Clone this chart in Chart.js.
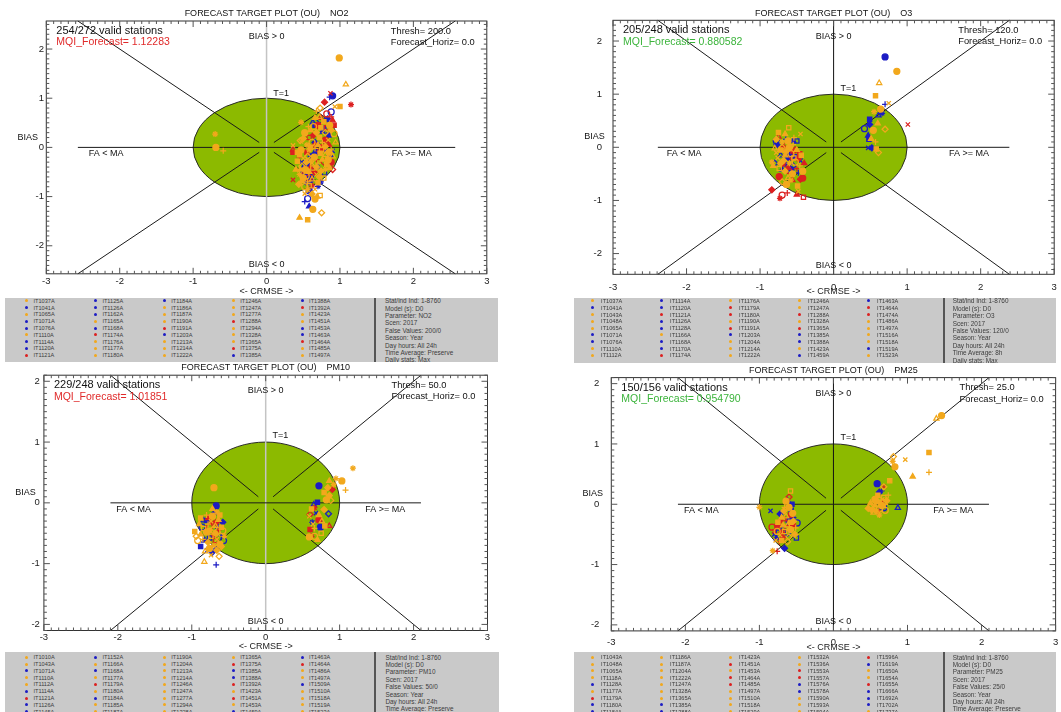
<!DOCTYPE html>
<html><head><meta charset="utf-8">
<script src="https://cdn.jsdelivr.net/npm/chart.js@4.4.1/dist/chart.umd.min.js"></script>
<style>
html,body{margin:0;padding:0;background:#fff;width:1061px;height:712px;overflow:hidden;position:relative;font-family:"Liberation Sans",Arial,sans-serif;}
canvas{position:absolute;}
.lg{position:absolute;background:#c9c9c9;z-index:5;overflow:hidden;}
.sep{position:absolute;top:0;bottom:0;width:2px;background:#555;}
.st{position:absolute;font-size:5.6px;line-height:6px;color:#3c3c3c;white-space:nowrap;}
.mk{position:absolute;width:3px;height:3px;border-radius:50%;}
.inf{position:absolute;font-size:6.4px;line-height:7px;color:#3c3c3c;white-space:nowrap;}
</style></head><body>
<canvas id="c1" width="530" height="298" style="left:0px;top:0px"></canvas>
<canvas id="c2" width="560" height="298" style="left:530px;top:0px"></canvas>
<canvas id="c3" width="530" height="294" style="left:0px;top:360px"></canvas>
<canvas id="c4" width="560" height="294" style="left:530px;top:360px"></canvas>
<script>
// ---------------- DATA ----------------
const pollutants = ['NO2', 'O3', 'PM10', 'PM25'];
const validStations = ['254/272', '205/248', '229/248', '150/156'];
const mqiValues = ['1.12283', '0.880582', '1.01851', '0.954790'];
const thresholds = ['200.0', '120.0', '50.0', '25.0'];
const horizons = ['0.0', '0.0', '0.0', '0.0'];
const xTicksRange = [-3, 3];
const yRanges = [2.57, 2.39, 2.1, 2.1];

// NO2 (CRMSE, BIAS)
const no2Orange = [[0.99,1.82],[1.08,1.28],[1.0,0.83],[0.93,0.83],[0.73,0.80],[-0.70,0.27],[-0.69,0.0],[-0.59,-0.07],
 [0.45,-1.43],[0.56,-1.47],[0.75,-1.33],[0.63,-1.26],[0.69,-1.0],[0.73,-0.98],[0.52,-0.94],[0.62,-0.95],[0.56,-0.86],[0.66,-1.05],
 [0.68,0.74],[0.72,0.62],[0.78,0.52],[0.88,0.35],[0.92,0.28],[0.60,0.35],[0.72,0.20],[0.47,0.12],[0.50,0.18],[0.55,0.05],
 [0.62,0.10],[0.66,-0.02],[0.70,0.05],[0.75,-0.05],[0.80,0.02],[0.85,-0.10],[0.90,-0.18],[0.45,-0.15],[0.50,-0.22],[0.56,-0.18],
 [0.60,-0.28],[0.65,-0.20],[0.70,-0.32],[0.76,-0.25],[0.82,-0.35],[0.48,-0.38],[0.53,-0.45],[0.58,-0.50],[0.63,-0.42],[0.68,-0.55],
 [0.74,-0.48],[0.45,-0.55],[0.50,-0.62],[0.56,-0.70],[0.62,-0.65],[0.70,-0.72],[0.44,-0.75],[0.52,-0.80],[0.40,-0.45],[0.42,-0.28],
 [0.84,0.15],[0.68,0.30],[0.58,-0.05],[0.64,0.42],[0.76,0.10],[0.86,-0.42],[0.78,-0.62],[0.54,-0.30],[0.47,-0.05],[0.80,-0.15],
 [0.73,-0.12],[0.36,0.04],[0.46,0.14],[0.47,0.51],
 [0.52,0.30],[0.57,0.42],[0.66,0.60],[0.74,0.40],[0.80,0.30],[0.86,0.45],[0.48,-0.68],[0.58,-0.78],[0.66,-0.85],[0.72,-0.60],
 [0.80,-0.45],[0.84,-0.25],[0.88,-0.05],[0.94,0.10],[0.60,0.00],[0.68,-0.40],[0.54,-0.58],[0.46,-0.45],[0.42,-0.10],[0.62,-0.32]];
const no2Blue = [[0.90,1.05],[0.86,1.02],[0.63,0.51],[0.66,0.45],[0.83,0.58],[0.88,0.72],[0.76,0.32],[0.85,0.25],[0.90,-0.07],
 [0.86,-0.18],[0.70,-0.79],[0.56,-1.04],[0.52,-1.10],[0.58,-1.20],[0.52,-0.40],[0.55,-0.48],[0.58,-0.52],[0.60,-0.58],[0.50,-0.55],
 [0.62,-0.62],[0.64,-0.15],[0.60,-0.18],[0.68,-0.10],[0.72,0.05],[0.80,-0.05],[0.78,0.40],[0.73,0.55],[0.55,-0.70],[0.70,-0.40],
 [0.79,-0.52],[0.48,-0.30],[0.66,0.10],[0.74,-0.70],[0.58,-0.88],[0.53,-0.35],[0.57,-0.42],
 [0.54,-0.62],[0.60,-0.68],[0.50,-0.45],[0.64,-0.48],[0.56,-0.30]];
const no2Red = [[0.87,1.10],[0.79,0.92],[1.15,0.87],[0.82,0.68],[0.88,0.62],[0.90,0.55],[0.82,0.40],[0.64,0.25],[0.80,0.15],
 [0.36,-0.05],[0.36,-0.10],[0.36,-0.66],[0.90,-0.45],[0.72,-0.08],[0.76,0.00],[0.68,-0.25],[0.60,-0.40],[0.55,-0.10],[0.78,-0.30],
 [0.70,0.45],[0.85,0.05],[0.58,0.20],[0.50,-0.50],[0.65,-0.50],[0.62,-0.78],[0.88,-0.30],[0.45,-0.20],
 [0.74,0.60],[0.92,0.45],[0.66,0.05],[0.58,-0.62]];

// O3
const o3Orange = [[0.86,1.43],[0.62,1.21],[0.57,0.97],[0.75,0.83],[0.70,0.34],[0.55,0.67],[0.54,0.32],[0.57,0.10],[0.51,0.16],
 [0.58,-0.03],[0.61,-0.10],[0.64,0.72],[0.60,0.45],
 [-0.61,0.37],[-0.45,0.25],[-0.78,0.15],[-0.70,0.10],[-0.62,0.12],[-0.55,0.05],[-0.80,-0.02],[-0.72,-0.05],[-0.65,-0.08],
 [-0.58,-0.12],[-0.50,-0.05],[-0.44,-0.15],[-0.76,-0.20],[-0.68,-0.25],[-0.60,-0.30],[-0.52,-0.28],[-0.46,-0.35],[-0.82,-0.35],
 [-0.74,-0.40],[-0.66,-0.45],[-0.56,-0.50],[-0.62,-0.58],[-0.49,-0.73],[-0.48,-0.83],[-0.70,-0.65],[-0.84,-0.28],[-0.42,-0.45],
 [-0.54,0.18],[-0.66,0.25],[-0.75,0.28],
 [-0.70,0.00],[-0.60,0.00],[-0.66,-0.15],[-0.54,-0.20],[-0.78,-0.10],[-0.72,-0.30],[-0.58,-0.62],[-0.64,-0.70]];
const o3Blue = [[0.70,1.70],[0.70,0.81],[0.61,0.60],[0.49,0.53],[0.49,0.43],[0.42,0.35],[0.47,0.22],[0.48,0.15],[0.47,-0.01],
 [0.52,-0.01],[0.66,0.64],
 [-0.78,0.12],[-0.65,0.15],[-0.55,0.12],[-0.50,0.12],[-0.77,0.05],[-0.60,-0.10],[-0.72,-0.15],[-0.52,-0.18],[-0.45,-0.25],
 [-0.80,-0.30],[-0.66,-0.32],[-0.58,-0.42],[-0.48,-0.48],[-0.70,-0.42],[-0.62,-0.20],[-0.55,-0.35]];
const o3Red = [[1.01,0.43],[-0.84,-0.80],[-0.73,-0.96],[-0.70,-0.90],[-0.63,-0.86],[-0.50,-0.89],[-0.41,-0.94],[-0.45,-0.60],
 [-0.42,-0.58],[-0.75,0.20],[-0.68,-0.02],[-0.58,-0.22],[-0.52,-0.05],[-0.62,-0.38],[-0.70,-0.30],[-0.50,-0.40],[-0.56,-0.62],
 [-0.46,-0.12],[-0.64,0.05],[-0.74,-0.55],[-0.40,-0.30],
 [-0.60,-0.45],[-0.66,-0.12],[-0.48,-0.22],[-0.56,-0.08]];

// PM10
const pm10Orange = [[-0.70,0.25],[-0.83,-0.97],[-0.96,-0.47],[-0.74,-0.86],[-0.63,-0.88],[-0.66,-0.15],[-0.72,-0.22],[-0.78,-0.35],
 [-0.64,-0.28],[-0.60,-0.40],[-0.70,-0.42],[-0.80,-0.48],[-0.88,-0.52],[-0.74,-0.55],[-0.66,-0.60],[-0.78,-0.65],[-0.70,-0.70],
 [-0.62,-0.68],[-0.85,-0.60],[-0.82,-0.80],[-0.76,-0.45],[-0.68,-0.50],[-0.58,-0.46],[-0.90,-0.35],[-0.62,-0.20],[-0.74,-0.30],
 [-0.66,-0.78],[-0.56,-0.55],[-0.92,-0.62],[-0.80,-0.20],
 [-0.72,-0.10],[-0.84,-0.42],[-0.60,-0.72],[-0.76,-0.75],[-0.68,-0.38],[-0.88,-0.25],[-0.64,-0.52],[-0.94,-0.55],
 [1.18,0.57],[1.03,0.36],[1.08,0.21],[0.86,0.36],[0.79,0.17],[0.88,0.04],[0.59,-0.56],[0.70,-0.61],[0.75,-0.50],[0.59,-0.22],
 [0.79,-0.11],[0.92,0.30],[0.82,0.05],[0.66,-0.42],[0.76,-0.30],[0.62,-0.10],[0.84,0.25],
 [0.66,-0.55],[0.72,-0.20],[0.80,-0.38],[0.64,-0.35],[0.86,0.12],[0.95,0.40]];
const pm10Blue = [[-0.67,-0.05],[-0.67,-1.02],[-0.84,-0.29],[-0.80,-0.29],[-0.58,-0.32],[-0.86,-0.40],[-0.83,-0.62],[-0.88,-0.72],
 [-0.79,-0.78],[-0.72,-0.81],[-0.67,-0.75],[-0.57,-0.62],[-0.60,-0.54],[-0.64,-0.40],[-0.76,-0.58],[-0.70,-0.18],
 [0.72,0.28],[0.65,-0.03],[0.70,0.01],[0.68,-0.17],[0.85,-0.18],[0.63,-0.32],[0.74,-0.40]];
const pm10Red = [[-0.73,-0.33],[-0.67,-0.32],[-0.70,-0.53],[-0.76,-0.40],[-0.64,-0.45],[-0.78,-0.25],[-0.68,-0.62],
 [0.90,0.22],[0.72,-0.28],[0.86,-0.38],[0.60,-0.44],[0.63,-0.53],[0.60,-0.19],[0.66,-0.08]];

// PM25
const pm25Orange = [[1.46,1.47],[1.39,1.42],[1.29,0.86],[0.97,0.74],[0.81,0.79],[0.80,0.71],[0.83,0.62],[1.29,0.53],[1.07,0.46],
 [0.76,0.39],[0.68,0.29],[0.56,0.08],[0.63,0.03],[0.68,0.11],[0.54,-0.05],[0.47,-0.07],[0.58,-0.11],[0.65,-0.02],[0.70,0.00],
 [0.54,-0.14],[0.60,0.15],[0.72,0.06],[0.62,-0.08],[0.50,0.02],
 [0.58,0.05],[0.66,0.08],[0.52,-0.10],[0.62,-0.18],[0.70,-0.10],[0.74,0.15],[0.56,-0.02],
 [-0.58,0.22],[-0.67,-0.11],[-0.60,-0.05],[-0.64,-0.20],[-0.58,-0.30],[-0.72,-0.51],[-0.60,-0.54],[-0.82,-0.77],[-0.58,-0.42],
 [-0.51,-0.39],[-0.68,-0.35],[-0.75,-0.30],[-0.62,-0.62],[-0.55,-0.15],[-0.70,-0.22],[-0.66,-0.45],[-0.78,-0.60],[-0.52,-0.50],
 [-1.00,-0.05],[-0.64,0.05],
 [-0.66,-0.05],[-0.62,-0.35],[-0.70,-0.60],[-0.54,-0.28],[-0.76,-0.45]];
const pm25Blue = [[0.59,0.34],[0.65,0.22],[0.87,-0.06],[0.65,-0.04],[0.62,0.20],[0.68,-0.06],
 [-0.62,0.06],[-0.56,0.0],[-0.85,-0.11],[-0.72,-0.16],[-0.54,-0.22],[-0.49,-0.31],[-0.77,-0.43],[-0.77,-0.56],[-0.50,-0.56],
 [-0.66,-0.73],[-0.60,-0.28],[-0.68,-0.40],[-0.57,-0.10],[-0.80,-0.50],[-0.62,-0.48]];
const pm25Red = [[0.68,0.29],[0.65,0.01],[0.60,-0.12],[-0.83,-0.38],[-0.76,-0.78],[-0.72,-0.28],[-0.63,-0.39],[-0.70,-0.47],
 [-0.75,-0.35],[-0.66,-0.25],[-0.58,-0.18],[-0.80,-0.45],[-0.60,0.12],[-0.68,-0.55],[-0.55,-0.35],[-0.73,-0.62]];

// legend station lists
const no2Stations = ['IT1037A','IT1041A','IT1065A','IT1071A','IT1076A','IT1110A','IT1114A','IT1120A','IT1121A',
 'IT1125A','IT1126A','IT1162A','IT1165A','IT1168A','IT1174A','IT1176A','IT1177A','IT1180A',
 'IT1184A','IT1186A','IT1187A','IT1190A','IT1191A','IT1203A','IT1213A','IT1214A','IT1222A',
 'IT1246A','IT1247A','IT1277A','IT1288A','IT1294A','IT1328A','IT1365A','IT1375A','IT1385A',
 'IT1388A','IT1392A','IT1423A','IT1451A','IT1453A','IT1463A','IT1464A','IT1485A','IT1497A'];
const o3Stations = ['IT1037A','IT1041A','IT1043A','IT1048A','IT1065A','IT1071A','IT1076A','IT1110A','IT1112A',
 'IT1114A','IT1120A','IT1121A','IT1126A','IT1128A','IT1166A','IT1168A','IT1170A','IT1174A',
 'IT1176A','IT1179A','IT1180A','IT1190A','IT1191A','IT1203A','IT1204A','IT1214A','IT1222A',
 'IT1246A','IT1247A','IT1288A','IT1328A','IT1365A','IT1385A','IT1388A','IT1423A','IT1459A',
 'IT1463A','IT1464A','IT1474A','IT1486A','IT1497A','IT1516A','IT1518A','IT1519A','IT1523A'];
const pm10Stations = ['IT1010A','IT1043A','IT1071A','IT1110A','IT1112A','IT1114A','IT1121A','IT1126A','IT1145A',
 'IT1152A','IT1166A','IT1168A','IT1177A','IT1179A','IT1180A','IT1184A','IT1185A','IT1187A',
 'IT1190A','IT1204A','IT1213A','IT1214A','IT1246A','IT1247A','IT1277A','IT1294A','IT1328A',
 'IT1365A','IT1375A','IT1385A','IT1388A','IT1392A','IT1423A','IT1451A','IT1453A','IT1459A',
 'IT1463A','IT1464A','IT1486A','IT1497A','IT1509A','IT1510A','IT1518A','IT1519A','IT1523A'];
const pm25Stations = ['IT1043A','IT1048A','IT1065A','IT1118A','IT1128A','IT1177A','IT1179A','IT1180A','IT1184A',
 'IT1186A','IT1187A','IT1204A','IT1222A','IT1247A','IT1328A','IT1365A','IT1385A','IT1388A',
 'IT1423A','IT1451A','IT1453A','IT1464A','IT1485A','IT1497A','IT1510A','IT1518A','IT1529A',
 'IT1532A','IT1536A','IT1553A','IT1557A','IT1576A','IT1578A','IT1590A','IT1593A','IT1594A',
 'IT1596A','IT1619A','IT1650A','IT1654A','IT1655A','IT1666A','IT1692A','IT1702A','IT1737A'];
const no2MarkerColors = 'OBOBBOBBR' + 'BBBOBROOO' + 'BOOORBOOO' + 'OOOROOORB' + 'BROOBBROO';
const o3MarkerColors = 'OBOOOBBOO' + 'BBRBBOBBR' + 'ORRORBOOO' + 'OORORBBOB' + 'BRROOOOBO';
const pm10MarkerColors = 'OOBOOBRBB' + 'BOBOROBOO' + 'OOOOOOOOO' + 'ORBBROROB' + 'BROOBOOOO';
const pm25MarkerColors = 'OOOOBORBB' + 'OOOOOOOBB' + 'ORORROOOO' + 'OORRBBOOO' + 'RBOORBBBO';
const infoNO2 = ['Stat/ind Ind: 1-8760','Model (s): D0','Parameter: NO2','Scen: 2017','False Values: 200/0','Season: Year','Day hours: All 24h','Time Average: Preserve','Daily stats: Max'];
const infoO3 = ['Stat/ind Ind: 1-8760','Model (s): D0','Parameter: O3','Scen: 2017','False Values: 120/0','Season: Year','Day hours: All 24h','Time Average: 8h','Daily stats: Max'];
const infoPM10 = ['Stat/ind Ind: 1-8760','Model (s): D0','Parameter: PM10','Scen: 2017','False Values: 50/0','Season: Year','Day hours: All 24h','Time Average: Preserve','Daily stats: Max'];
const infoPM25 = ['Stat/ind Ind: 1-8760','Model (s): D0','Parameter: PM25','Scen: 2017','False Values: 25/0','Season: Year','Day hours: All 24h','Time Average: Preserve','Daily stats: Max'];

// ---------------- STYLE ----------------
const FONT = '"Liberation Sans", Arial, sans-serif';
const COLORS = { O: '#f2a81c', B: '#1c1cc4', R: '#dc2020' };
const GREEN = '#8cba00';
const STYLES = ['circle','triangle','rect','crossRot','rectRot','star','circle','cross','triangle','rect','rectRot'];

const panelLayout = [
  { id:'c1', pad:{left:10.3,right:43.2,top:21,bottom:1.2}, yW:36, xH:23, xPad:1.8, yPad:2.3, vColor:'#c4c4c4', vW:1.5, mqi:'#e02a2a', titleOff:7.5 },
  { id:'c2', pad:{left:47,right:35.8,top:20.3,bottom:0.7}, yW:36, xH:23, xPad:7.2, yPad:11, vColor:'#111', vW:1, mqi:'#3cb43c', titleOff:6.8 },
  { id:'c3', pad:{left:7.9,right:42.5,top:15.2,bottom:1.9}, yW:36, xH:21.6, xPad:1.0, yPad:4, vColor:'#c4c4c4', vW:1.5, mqi:'#e02a2a', titleOff:7.8 },
  { id:'c4', pad:{left:45.3,right:34.4,top:14.2,bottom:1.4}, yW:36, xH:21.7, xPad:6.2, yPad:11.9, vColor:'#111', vW:1, mqi:'#3cb43c', titleOff:6.8 }
];
const seriesByPanel = [
  [no2Orange, no2Red, no2Blue],
  [o3Orange, o3Red, o3Blue],
  [pm10Orange, pm10Red, pm10Blue],
  [pm25Orange, pm25Red, pm25Blue]
];
const seriesColors = [COLORS.O, COLORS.R, COLORS.B];

const targetPlugin = {
  id: 'target',
  beforeDatasetsDraw(chart) {
    const p = chart.options.plugins.target;
    const { ctx, chartArea: a } = chart;
    const xs = chart.scales.x, ys = chart.scales.y;
    const X = v => xs.getPixelForValue(v), Y = v => ys.getPixelForValue(v);
    const r = p.r;
    ctx.save();
    ctx.beginPath();
    ctx.ellipse(X(0), Y(0), X(1) - X(0), Y(0) - Y(1), 0, 0, Math.PI * 2);
    ctx.fillStyle = GREEN; ctx.fill();
    ctx.lineWidth = 1; ctx.strokeStyle = '#2a2a2a'; ctx.stroke();
    ctx.beginPath();
    ctx.moveTo(X(0), a.top); ctx.lineTo(X(0), a.bottom);
    ctx.strokeStyle = p.vColor; ctx.lineWidth = p.vW; ctx.stroke();
    ctx.beginPath();
    ctx.strokeStyle = '#1a1a1a'; ctx.lineWidth = 1;
    ctx.moveTo(X(-r), Y(0)); ctx.lineTo(X(r), Y(0));
    for (const sx of [-1, 1]) for (const sy of [-1, 1]) {
      ctx.moveTo(X(sx * 0.1), Y(sy * 0.1)); ctx.lineTo(X(sx * r), Y(sy * r));
    }
    ctx.stroke();
    ctx.restore();
  },
  afterDraw(chart) {
    const p = chart.options.plugins.target;
    const { ctx, chartArea: a } = chart;
    const xs = chart.scales.x, ys = chart.scales.y;
    const X = v => xs.getPixelForValue(v), Y = v => ys.getPixelForValue(v);
    const r = p.r;
    ctx.save();
    ctx.strokeStyle = '#333'; ctx.lineWidth = 1;
    ctx.strokeRect(a.left, a.top, a.right - a.left, a.bottom - a.top);
    ctx.beginPath();
    ctx.strokeStyle = '#555';
    for (let i = -30; i <= 30; i++) {
      const px = X(i / 10), L = (i % 10 === 0) ? 6 : 3;
      ctx.moveTo(px, a.top); ctx.lineTo(px, a.top + L);
      ctx.moveTo(px, a.bottom); ctx.lineTo(px, a.bottom - L);
    }
    const n = Math.floor(r * 10 + 1e-6);
    for (let i = -n; i <= n; i++) {
      const py = Y(i / 10), L = (i % 10 === 0) ? 6 : 3;
      ctx.moveTo(a.left, py); ctx.lineTo(a.left + L, py);
      ctx.moveTo(a.right, py); ctx.lineTo(a.right - L, py);
    }
    ctx.stroke();
    ctx.fillStyle = '#111';
    ctx.textBaseline = 'middle';
    ctx.textAlign = 'center';
    ctx.font = '9px ' + FONT;
    ctx.fillText('FORECAST TARGET PLOT (OU)    ' + p.pollutant, (a.left + a.right) / 2, a.top - p.titleOff);
    ctx.fillText('BIAS > 0', X(0), a.top + 15.8);
    ctx.fillText('BIAS < 0', X(0), a.bottom - 9.1);
    ctx.fillText('T=1', X(0.2), Y(1.1));
    ctx.fillText('FA < MA', X(-0.85 * r), Y(0) + 6.3);
    ctx.fillText('FA >= MA', X(0.77 * r), Y(0) + 6.3);
    ctx.fillText('BIAS', a.left - 18.5, Y(0) - 10.3);
    ctx.textAlign = 'left';
    ctx.font = '11px ' + FONT;
    ctx.fillText(p.valid + ' valid stations', a.left + 10, a.top + 10);
    ctx.font = '10.5px ' + FONT;
    ctx.fillStyle = p.mqiColor;
    ctx.fillText('MQI_Forecast= ' + p.mqi, a.left + 10, a.top + 21.5);
    ctx.fillStyle = '#111';
    ctx.font = '9.3px ' + FONT;
    ctx.fillText('Thresh= ' + p.thresh, a.right - 96, a.top + 10);
    ctx.fillText('Forecast_Horiz= ' + p.horiz, a.right - 96, a.top + 21.5);
    ctx.restore();
  }
};

panelLayout.forEach((L, k) => {
  const datasets = seriesByPanel[k].map((arr, j) => {
    const col = seriesColors[j];
    return {
      data: arr.map(([x, y]) => ({ x, y })),
      pointStyle: ctx => STYLES[(ctx.dataIndex + j * 3) % STYLES.length],
      borderColor: col,
      backgroundColor: ctx => ((ctx.dataIndex + j) % 3 === 1) ? 'rgba(0,0,0,0)' : col,
      pointRadius: 3,
      pointBorderWidth: 1.25,
      pointHoverRadius: 3
    };
  });
  const r = yRanges[k];
  new Chart(document.getElementById(L.id), {
    type: 'scatter',
    data: { datasets },
    options: {
      responsive: false, animation: false, devicePixelRatio: 1, events: [],
      layout: { padding: L.pad },
      plugins: {
        legend: { display: false }, tooltip: { enabled: false },
        target: { r, pollutant: pollutants[k], valid: validStations[k], mqi: mqiValues[k], mqiColor: L.mqi,
                  thresh: thresholds[k], horiz: horizons[k], vColor: L.vColor, vW: L.vW, titleOff: L.titleOff }
      },
      scales: {
        x: {
          type: 'linear', min: xTicksRange[0], max: xTicksRange[1],
          grid: { display: false, drawTicks: false }, border: { display: false },
          ticks: { stepSize: 1, padding: L.xPad, color: '#222', font: { size: 9.5, family: FONT }, maxRotation: 0, autoSkip: false },
          title: { display: true, text: '<- CRMSE ->', color: '#222', font: { size: 9, family: FONT }, padding: 0 },
          afterFit: s => { s.height = L.xH; }
        },
        y: {
          type: 'linear', min: -r, max: r,
          grid: { display: false, drawTicks: false }, border: { display: false },
          ticks: { stepSize: 1, includeBounds: false, padding: L.yPad, color: '#222', font: { size: 9.5, family: FONT }, autoSkip: false },
          afterFit: s => { s.width = L.yW; }
        }
      }
    },
    plugins: [targetPlugin]
  });
});

// ---------------- LEGEND BOXES ----------------
const legendLayout = [
  { left:5, top:297.7, w:493.3, h:64.6, textX:33.5, markX:26.4, colStep:68.9, row0:300.9, rowStep:6.8, sepX:375, infoX:385, info0:300.8, infoStep:7.4 },
  { left:574, top:298, w:482, h:65, textX:601.1, markX:592.6, colStep:69, row0:300.9, rowStep:6.8, sepX:943.5, infoX:952.7, info0:300.8, infoStep:7.4 },
  { left:5, top:652.4, w:493.6, h:62, textX:33.5, markX:26.4, colStep:68.9, row0:657.3, rowStep:6.8, sepX:375.3, infoX:385.4, info0:657.2, infoStep:7.4 },
  { left:574, top:652.4, w:482, h:62, textX:601.1, markX:592.6, colStep:69, row0:657.3, rowStep:6.8, sepX:943.5, infoX:952.7, info0:657.2, infoStep:7.4 }
];
const legendStations = [no2Stations, o3Stations, pm10Stations, pm25Stations];
const legendMarkers = [no2MarkerColors, o3MarkerColors, pm10MarkerColors, pm25MarkerColors];
const legendInfo = [infoNO2, infoO3, infoPM10, infoPM25];

legendLayout.forEach((B, k) => {
  const box = document.createElement('div');
  box.className = 'lg';
  Object.assign(box.style, { left: B.left + 'px', top: B.top + 'px', width: B.w + 'px', height: B.h + 'px' });
  legendStations[k].forEach((name, i) => {
    const col = Math.floor(i / 9), row = i % 9;
    const cy = B.row0 + row * B.rowStep - B.top;
    const t = document.createElement('div');
    t.className = 'st'; t.textContent = name;
    t.style.left = (B.textX + col * B.colStep - B.left) + 'px';
    t.style.top = (cy - 3) + 'px';
    box.appendChild(t);
    const m = document.createElement('div');
    m.className = 'mk';
    m.style.background = COLORS[legendMarkers[k][i]] || COLORS.O;
    m.style.left = (B.markX + col * B.colStep - B.left - 1.5) + 'px';
    m.style.top = (cy - 1.5) + 'px';
    box.appendChild(m);
  });
  const sep = document.createElement('div');
  sep.className = 'sep'; sep.style.left = (B.sepX - B.left - 1) + 'px';
  box.appendChild(sep);
  legendInfo[k].forEach((s, i) => {
    const t = document.createElement('div');
    t.className = 'inf'; t.textContent = s;
    t.style.left = (B.infoX - B.left) + 'px';
    t.style.top = (B.info0 + i * B.infoStep - B.top - 3.5) + 'px';
    box.appendChild(t);
  });
  document.body.appendChild(box);
});
</script>
</body></html>
